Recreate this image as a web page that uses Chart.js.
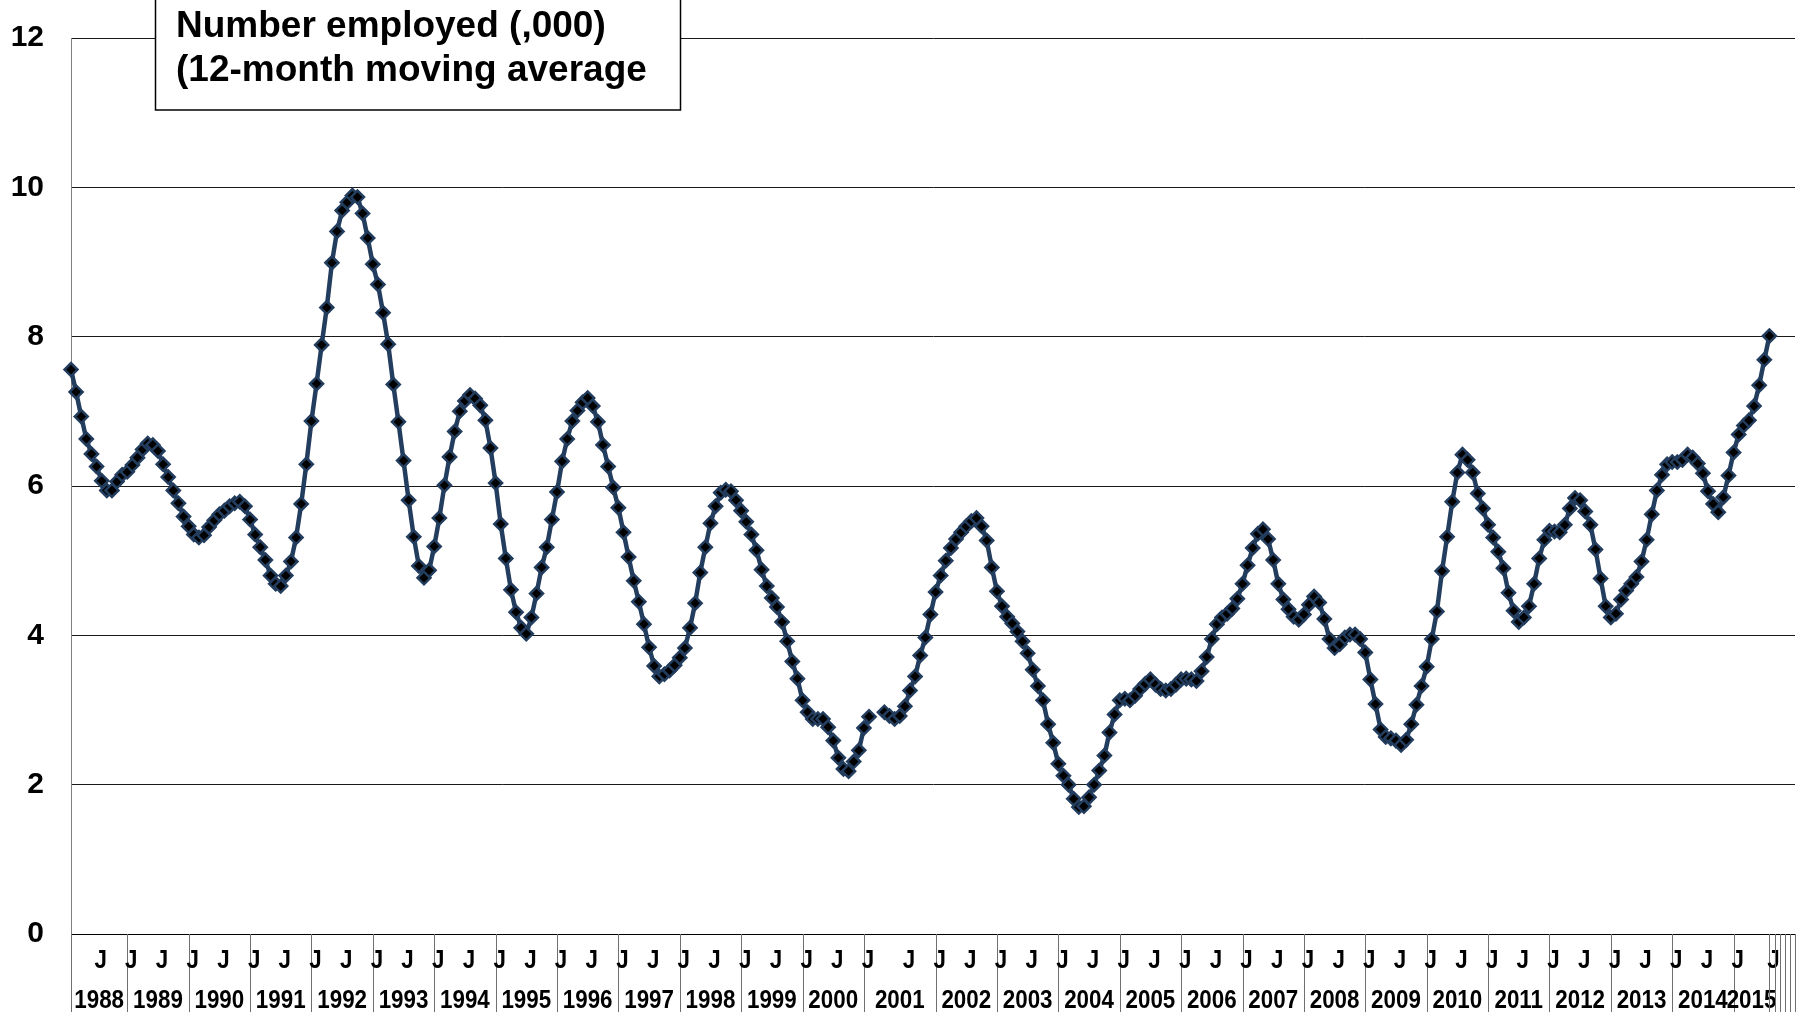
<!DOCTYPE html>
<html>
<head>
<meta charset="utf-8">
<title>Number employed</title>
<script src="https://cdn.jsdelivr.net/npm/chart.js@4.4.1/dist/chart.umd.min.js"></script>
<style>
  html, body { margin: 0; padding: 0; background: #fff; }
  #wrap { width: 1804px; height: 1012px; }
</style>
</head>
<body>
<div id="wrap"><canvas id="employedChart" width="1804" height="1012"></canvas></div>
<script>
// year groups along the category axis (the trailing ones are empty cells)
const years = ['1988', '1989', '1990', '1991', '1992', '1993', '1994', '1995', '1996', '1997',
  '1998', '1999', '2000', '2001', '2002', '2003', '2004', '2005', '2006', '2007', '2008',
  '2009', '2010', '2011', '2012', '2013', '2014', '2015', '', '', '', '', ''];

// number of monthly categories in each group
const yearSizes = [11, 12, 12, 12, 12, 12, 12, 12, 12, 12,
  12, 12, 12, 14, 12, 12, 12, 12, 12, 12, 12,
  12, 12, 12, 12, 12, 12, 7, 1, 1, 1, 1, 1];

// position of the "J" month labels inside each group
const jTicks = [[5], [0, 6], [0, 6], [0, 6], [0, 6], [0, 6], [0, 6], [0, 6], [0, 6], [0, 6],
  [0, 6], [0, 6], [0, 6], [0, 8], [0, 6], [0, 6], [0, 6], [0, 6], [0, 6], [0, 6], [0, 6],
  [0, 6], [0, 6], [0, 6], [0, 6], [0, 6], [0, 6], [0], [0], [], [], [], []];

// number employed (,000), 12-month moving average, one row per year
const employed = [
  7.56, 7.26, 6.93, 6.63, 6.43, 6.26, 6.07, 5.94, 5.94, 6.06, 6.15,           // 1988
  6.19, 6.28, 6.38, 6.49, 6.57, 6.55, 6.47, 6.29, 6.12, 5.94, 5.77, 5.59,     // 1989
  5.46, 5.35, 5.31, 5.34, 5.45, 5.54, 5.62, 5.67, 5.73, 5.77, 5.79, 5.73,     // 1990
  5.55, 5.35, 5.18, 5.01, 4.80, 4.69, 4.66, 4.80, 4.99, 5.31, 5.76, 6.29,     // 1991
  6.87, 7.37, 7.89, 8.39, 8.99, 9.41, 9.69, 9.80, 9.89, 9.87, 9.65, 9.32,     // 1992
  8.97, 8.70, 8.32, 7.90, 7.36, 6.86, 6.34, 5.81, 5.32, 4.93, 4.77, 4.87,     // 1993
  5.19, 5.57, 6.01, 6.39, 6.73, 7.00, 7.14, 7.22, 7.17, 7.08, 6.88, 6.51,     // 1994
  6.04, 5.49, 5.03, 4.61, 4.31, 4.10, 4.02, 4.24, 4.56, 4.91, 5.18, 5.55,     // 1995
  5.92, 6.33, 6.63, 6.87, 7.01, 7.12, 7.18, 7.07, 6.86, 6.55, 6.26, 5.98,     // 1996
  5.71, 5.38, 5.05, 4.73, 4.45, 4.15, 3.84, 3.59, 3.45, 3.48, 3.53, 3.60,     // 1997
  3.70, 3.83, 4.10, 4.43, 4.84, 5.18, 5.50, 5.73, 5.91, 5.95, 5.93, 5.81,     // 1998
  5.67, 5.52, 5.35, 5.14, 4.88, 4.66, 4.50, 4.38, 4.18, 3.92, 3.65, 3.42,     // 1999
  3.13, 2.97, 2.88, 2.88, 2.88, 2.77, 2.59, 2.36, 2.21, 2.18, 2.31, 2.46,     // 2000
  2.76, 2.91, null, null, 2.97, 2.92, 2.88, 2.92, 3.05, 3.26, 3.45, 3.73, 3.97, 4.28, // 2001
  4.58, 4.80, 5.00, 5.17, 5.29, 5.38, 5.46, 5.53, 5.57, 5.46, 5.27, 4.91,     // 2002
  4.59, 4.39, 4.25, 4.16, 4.05, 3.92, 3.76, 3.54, 3.32, 3.13, 2.81, 2.56,     // 2003
  2.28, 2.12, 2.00, 1.81, 1.70, 1.71, 1.83, 2.00, 2.19, 2.39, 2.70, 2.94,     // 2004
  3.13, 3.15, 3.13, 3.19, 3.28, 3.35, 3.41, 3.34, 3.28, 3.26, 3.28, 3.34,     // 2005
  3.41, 3.42, 3.41, 3.39, 3.52, 3.71, 3.95, 4.15, 4.24, 4.29, 4.36, 4.49,     // 2006
  4.69, 4.94, 5.17, 5.36, 5.42, 5.29, 5.01, 4.69, 4.48, 4.35, 4.25, 4.21,     // 2007
  4.28, 4.41, 4.52, 4.44, 4.22, 3.95, 3.83, 3.88, 3.97, 4.01, 4.01, 3.95,     // 2008
  3.77, 3.41, 3.08, 2.74, 2.64, 2.62, 2.59, 2.53, 2.60, 2.81, 3.07, 3.32,     // 2009
  3.58, 3.95, 4.32, 4.86, 5.32, 5.79, 6.18, 6.42, 6.35, 6.18, 5.90, 5.70,     // 2010
  5.48, 5.31, 5.12, 4.90, 4.57, 4.33, 4.18, 4.24, 4.39, 4.69, 5.03, 5.28,     // 2011
  5.40, 5.39, 5.38, 5.48, 5.70, 5.84, 5.81, 5.66, 5.48, 5.15, 4.76, 4.39,     // 2012
  4.24, 4.29, 4.48, 4.60, 4.69, 4.78, 4.99, 5.28, 5.62, 5.94, 6.15, 6.29,     // 2013
  6.32, 6.32, 6.35, 6.42, 6.38, 6.30, 6.17, 5.93, 5.76, 5.65, 5.85, 6.14,     // 2014
  6.45, 6.69, 6.81, 6.88, 7.07, 7.35, 7.69,                                   // 2015
  8.01
];

const FONT = '"Liberation Sans", Arial, Helvetica, sans-serif';
const LINE_COLOR = '#233d5e';

// category labels: one per month plus the closing category on the right edge
const monthLabels = [];
years.forEach((yr, g) => {
  for (let k = 0; k < yearSizes[g]; k++) {
    monthLabels.push(jTicks[g].indexOf(k) >= 0 ? 'J' : '');
  }
});
monthLabels.push('');

const series = monthLabels.map((l, i) => (i < employed.length ? employed[i] : null));

// draws the two-row category axis (month letters, year boxes)
const groupedAxis = {
  id: 'groupedAxis',
  afterDraw(chart) {
    const ctx = chart.ctx;
    const xs = chart.scales.x;
    const top = chart.chartArea.bottom;
    const bottom = chart.height;
    const step = xs.getPixelForValue(1) - xs.getPixelForValue(0);

    ctx.save();
    ctx.strokeStyle = '#6f6f6f';
    ctx.lineWidth = 1;
    ctx.fillStyle = '#000';
    ctx.font = 'bold 26px ' + FONT;
    ctx.textAlign = 'center';
    ctx.textBaseline = 'alphabetic';

    let start = 0;
    years.forEach((yr, g) => {
      const end = start + yearSizes[g];
      const x0 = xs.getPixelForValue(start);
      const x1 = xs.getPixelForValue(end);

      ctx.beginPath();
      ctx.moveTo(Math.round(x0) + 0.5, top);
      ctx.lineTo(Math.round(x0) + 0.5, bottom);
      ctx.stroke();

      jTicks[g].forEach((k) => {
        const jx = xs.getPixelForValue(start + k) + step / 2 + 1.5;
        ctx.save();
        ctx.translate(jx, 968);
        ctx.scale(0.86, 1);
        ctx.fillText('J', 0, 0);
        ctx.restore();
      });

      if (yr) {
        ctx.save();
        ctx.translate((x0 + x1) / 2, 1008);
        ctx.scale(0.86, 1);
        ctx.fillText(yr, 0, 0);
        ctx.restore();
      }
      start = end;
    });

    const xe = xs.getPixelForValue(start);
    ctx.beginPath();
    ctx.moveTo(Math.round(xe) + 0.5, top);
    ctx.lineTo(Math.round(xe) + 0.5, bottom);
    ctx.stroke();
    ctx.restore();
  }
};

// boxed heading in the top left corner
const headingBox = {
  id: 'headingBox',
  afterDraw(chart) {
    const ctx = chart.ctx;
    ctx.save();
    ctx.fillStyle = '#fff';
    ctx.fillRect(155, -2, 525, 112);
    ctx.strokeStyle = '#000';
    ctx.lineWidth = 1.5;
    ctx.strokeRect(155.5, -2, 525, 112);
    ctx.fillStyle = '#000';
    ctx.font = 'bold 37px ' + FONT;
    ctx.textAlign = 'left';
    ctx.textBaseline = 'alphabetic';
    ctx.fillText('Number employed (,000)', 176, 37);
    ctx.fillText('(12-month moving average', 176, 81);
    ctx.restore();
  }
};

new Chart(document.getElementById('employedChart'), {
  type: 'line',
  data: {
    labels: monthLabels,
    datasets: [{
      data: series,
      borderColor: LINE_COLOR,
      borderWidth: 4.5,
      tension: 0,
      spanGaps: false,
      pointStyle: 'rectRot',
      pointRadius: 6.5,
      pointBackgroundColor: '#000',
      pointBorderColor: LINE_COLOR,
      pointBorderWidth: 2.5,
      clip: false
    }]
  },
  options: {
    responsive: false,
    animation: false,
    layout: { padding: { top: 38, right: 8, bottom: 0, left: 0 } },
    plugins: {
      legend: { display: false },
      tooltip: { enabled: false }
    },
    scales: {
      x: {
        type: 'category',
        offset: false,
        grid: { display: false },
        border: { display: true, color: '#000', width: 1 },
        ticks: { display: false },
        afterFit(scale) { scale.height = 78; }
      },
      y: {
        min: 0,
        max: 12,
        ticks: {
          stepSize: 2,
          padding: 2,
          crossAlign: 'near',
          color: '#000',
          font: { family: FONT, weight: 'bold', size: 30 }
        },
        // invisible tick marks keep the labels away from the axis line
        grid: { color: '#1a1a1a', lineWidth: 1, drawTicks: true, tickLength: 25, tickColor: 'rgba(0,0,0,0)' },
        border: { display: true, color: '#7f7f7f', width: 1 },
        afterFit(scale) { scale.width = 71; }
      }
    }
  },
  plugins: [groupedAxis, headingBox]
});
</script>
</body>
</html>
